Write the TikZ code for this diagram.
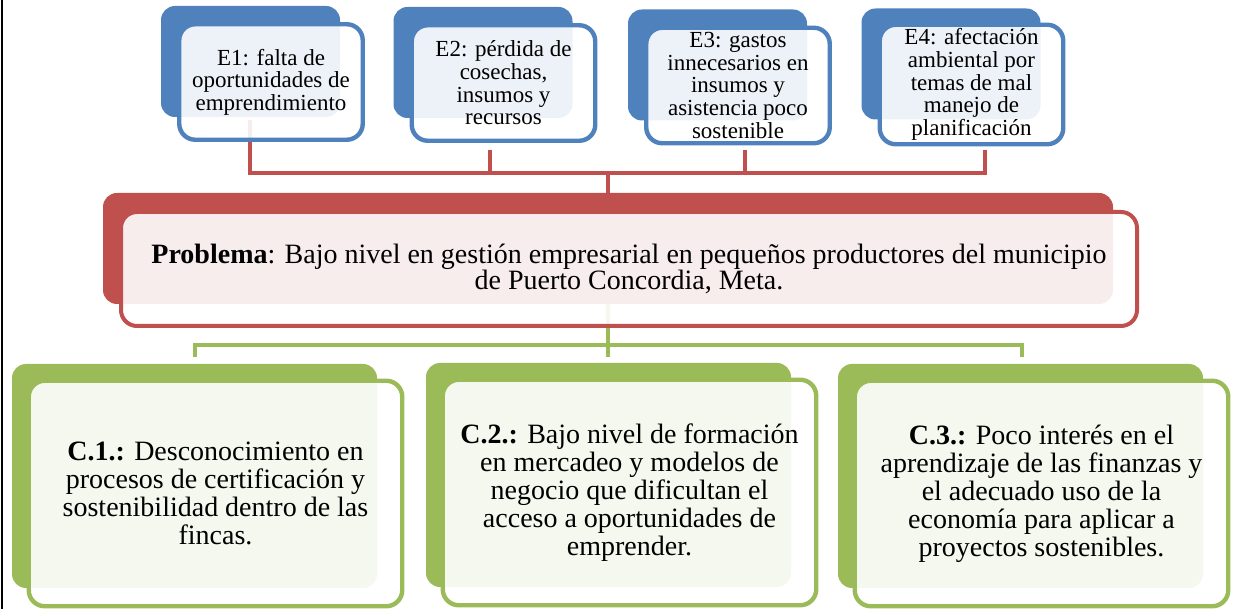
\documentclass[tikz,border=0pt]{standalone}
\usepackage{fontspec}
\setmainfont{Liberation Serif}
\usepackage{tikz}
\usetikzlibrary{positioning}
\definecolor{eblue}{HTML}{4F81BD}
\definecolor{pred}{HTML}{C0504D}
\definecolor{cgreen}{HTML}{9BBB59}
\newlength\frontLineWidth
\setlength\frontLineWidth{2.2pt}
\tikzset{
  backBox/.style={%
    rectangle,
    rounded corners=7pt,
    inner sep=0pt},
  frontBox/.style={%
    rectangle,
    rounded corners=8pt,
    line width=\frontLineWidth,
    fill=white,
    fill opacity=0.9,
    text opacity=1,
    align=center,
    inner sep=2pt},
  effectBack/.style={%
    backBox,
    fill=eblue,
    minimum width=89.5pt,
    minimum height=55.5pt},
  effectFront/.style={%
    frontBox,
    draw=eblue,
    minimum width=91.75pt,
    minimum height=57.75pt,
    xshift=10.25pt,
    yshift=-10.25pt,
    font=\fontsize{11.5}{11.3}\selectfont},
  problemBack/.style={%
    backBox,
    fill=pred,
    minimum width=505pt,
    minimum height=55.5pt},
  problemFront/.style={%
    frontBox,
    draw=pred,
    line width=2pt,
    minimum width=508pt,
    minimum height=57pt,
    xshift=10.5pt,
    yshift=-10.25pt,
    font=\fontsize{14}{13}\selectfont},
  causeBack/.style={%
    backBox,
    fill=cgreen,
    minimum width=182.5pt,
    minimum height=112pt},
  causeFront/.style={%
    frontBox,
    draw=cgreen,
    minimum width=186.75pt,
    minimum height=112.75pt,
    xshift=10.5pt,
    yshift=-8.75pt,
    font=\fontsize{14}{14}\selectfont},
  effectLink/.style={draw=pred,line width=2pt},
  causeLink/.style={draw=cgreen,line width=2pt},
  }

\begin{document}
\begin{tikzpicture}[x=0.5pt,y=-0.5pt]
  \useasboundingbox (0,0) rectangle (1239,609);
  \draw[line width=1pt] (2,0) -- (2,609);
  % back boxes
  \node[effectBack] (e1b) at (250.5,61.5) {};
  \node[effectBack] (e2b) at (483,62.5) {};
  \node[effectBack] (e3b) at (717.5,65) {};
  \node[effectBack] (e4b) at (951,64) {};
  \node[problemBack] (pb) at (608,248.5) {};
  \node[causeBack] (c1b) at (194.5,476) {};
  \node[causeBack] (c2b) at (608.5,475) {};
  \node[causeBack] (c3b) at (1020.5,476) {};
  % connectors
  \coordinate (rj) at (608,173);
  \coordinate (t1) at (250,120);
  \coordinate (t2) at (490,150);
  \coordinate (t3) at (745,150);
  \coordinate (t4) at (985,150);
  \foreach \i in {1,...,4}
    \draw[effectLink] (pb.north) -- (rj) -| (t\i);
  \coordinate (gj) at (608,345);
  \coordinate (s1) at (195,357);
  \coordinate (s2) at (608,357);
  \coordinate (s3) at (1022,357);
  \foreach \i in {1,2,3}
    \draw[causeLink] (pb.south) -- (gj) -| (s\i);
  % front boxes
  \node[effectFront] (e1) at (e1b) {E1: falta de\\oportunidades de\\emprendimiento};
  \node[effectFront] (e2) at (e2b) {E2: pérdida de\\cosechas,\\insumos y\\recursos};
  \node[effectFront] (e3) at (e3b) {E3: gastos\\innecesarios en\\insumos y\\asistencia poco\\sostenible};
  \node[effectFront] (e4) at (e4b) {E4: afectación\\ambiental por\\temas de mal\\manejo de\\planificación};
  \node[problemFront] (prob) at (pb) {\textbf{Problema}: Bajo nivel en gestión empresarial en pequeños productores del municipio\\de Puerto Concordia, Meta.};
  \node[causeFront] (c1) at (c1b) {\textbf{C.1.:} Desconocimiento en\\procesos de certificación y\\sostenibilidad dentro de las\\fincas.};
  \node[causeFront] (c2) at (c2b) {\textbf{C.2.:} Bajo nivel de formación\\en mercadeo y modelos de\\negocio que dificultan el\\acceso a oportunidades de\\emprender.};
  \node[causeFront] (c3) at (c3b) {\textbf{C.3.:} Poco interés en el\\aprendizaje de las finanzas y\\el adecuado uso de la\\economía para aplicar a\\proyectos sostenibles.};
\end{tikzpicture}
\end{document}
